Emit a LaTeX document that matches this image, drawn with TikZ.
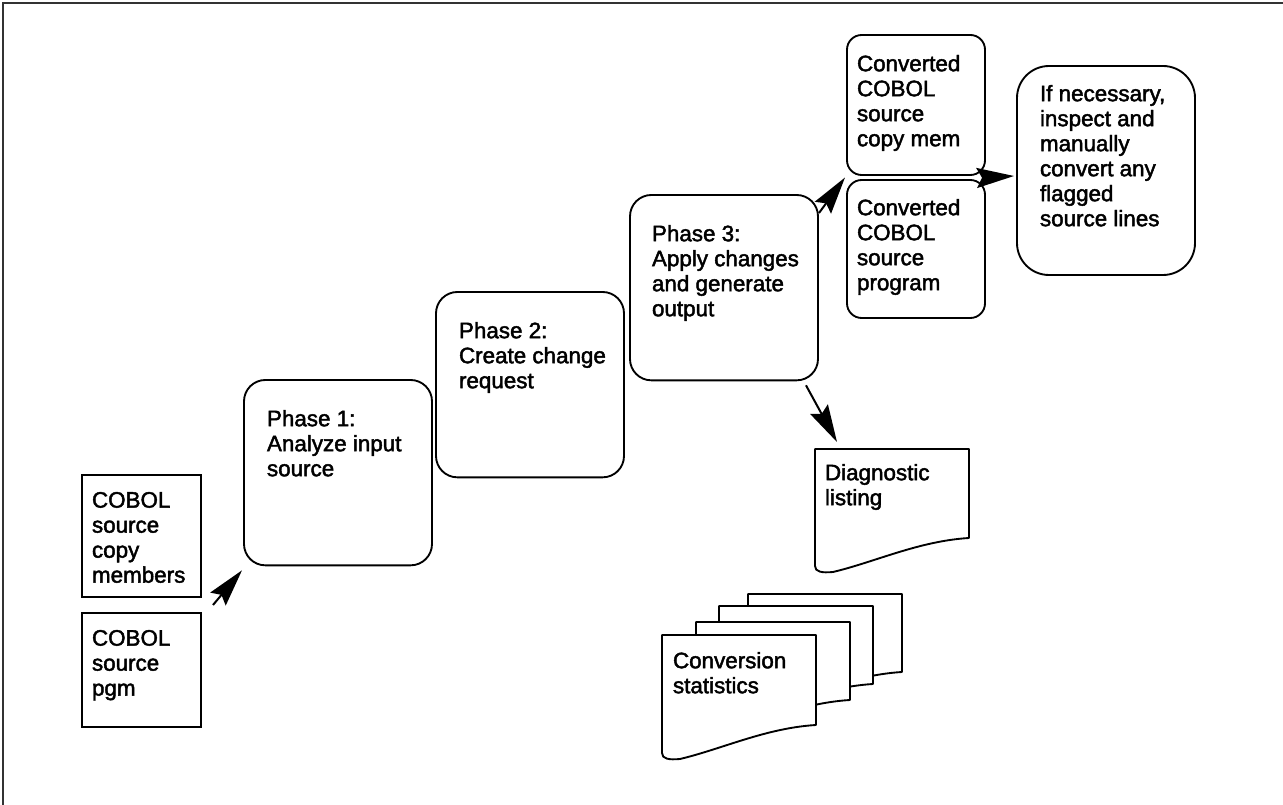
\documentclass[tikz,border=0pt]{standalone}
\usepackage{fontspec}
\setmainfont{Liberation Sans}[BoldFont={Liberation Sans},BoldFeatures={FakeBold=2}]
\usetikzlibrary{calc,arrows.meta}
\newcommand{\mydocshape}[2]{%
  \draw[line width=1.4pt, fill=white, line join=round]
    (#1.north west) -- (#1.north east) -- ($(#1.south east)+(0,-#2)$)
    .. controls ($(#1.south east)+(-50,-#2+3)$) and ($(#1.south west)+(60,-8)$) .. ($(#1.south west)+(18,2)$)
    .. controls ($(#1.south west)+(7,3)$) and ($(#1.south west)+(0,2)$) .. ($(#1.south west)+(0,-4)$) -- cycle;}
\begin{document}
\begin{tikzpicture}[x=0.75pt,y=-0.75pt,
  every node/.style={inner sep=0pt, outer sep=0pt},
  sq/.style={draw, line width=1.4pt, rectangle, anchor=north west},
  phase/.style={sq, rounded corners=16pt, minimum width=141pt, minimum height=139pt},
  conv/.style={sq, rounded corners=11pt, minimum width=103.5pt},
  bigbox/.style={sq, rounded corners=24pt},
  docbox/.style={rectangle, anchor=north west, minimum width=115.5pt},
  txt/.style={anchor=north west, align=left, font=\fontsize{16.8}{18.75}\selectfont\bfseries},
  arr/.style={-{Stealth[length=28pt,width=15pt,inset=4pt]}, line width=1.5pt},
]
\useasboundingbox (0,0) rectangle (1283,805);
% frame
\draw[line width=1.6pt, black!80] (3,830) -- (3,3) -- (1300,3);

% input boxes
\node[sq, minimum width=89.25pt, minimum height=91.5pt] (cm) at (82,475) {};
\node[txt] (cmt) at ($(cm.north west)+(10,17)$) {COBOL\\source\\copy\\members};
\node[sq, minimum width=89.25pt, minimum height=85.5pt] (pgm) at (82,613) {};
\node[txt] (pgmt) at ($(pgm.north west)+(10,17)$) {COBOL\\source\\pgm};

% phases
\node[phase] (p1) at (244,380) {};
\node[txt] (p1t) at ($(p1.north west)+(23,30)$) {Phase 1:\\Analyze input\\source};
\node[phase] (p2) at (436,292) {};
\node[txt] (p2t) at ($(p2.north west)+(23,30)$) {Phase 2:\\Create change\\request};
\node[phase] (p3) at (630,195) {};
\node[txt] (p3t) at ($(p3.north west)+(22,30)$) {Phase 3:\\Apply changes\\and generate\\output};

% converted outputs
\node[conv, minimum height=105pt] (c1) at (847,35) {};
\node[txt] (c1t) at ($(c1.north west)+(10,20)$) {Converted\\COBOL\\source\\copy mem};
\node[conv, minimum height=103.5pt] (c2) at (847,180) {};
\node[txt] (c2t) at ($(c2.north west)+(10,19)$) {Converted\\COBOL\\source\\program};

% final step
\node[bigbox, minimum width=133.5pt, minimum height=156.75pt] (rb) at (1017,66) {};
\node[txt] (rbt) at ($(rb.north west)+(23,19)$) {If necessary,\\inspect and\\manually\\convert any\\flagged\\source lines};

% documents
\node[docbox, minimum height=90.75pt] (diag) at (815,449) {};
\mydocshape{diag}{32}
\node[txt] (diagt) at ($(diag.north west)+(10,15)$) {Diagnostic\\listing};

\node[docbox, minimum height=82.5pt] (s4) at (748,594) {};
\node[docbox, minimum height=82.5pt] (s3) at (719,606) {};
\node[docbox, minimum height=82.5pt] (s2) at (696,622) {};
\node[docbox, minimum height=91.5pt] (s1) at (662,635) {};
\mydocshape{s4}{32}
\mydocshape{s3}{32}
\mydocshape{s2}{32}
\mydocshape{s1}{32}
\node[txt] (s1t) at ($(s1.north west)+(11,17)$) {Conversion\\statistics};

% arrows
\draw[arr] ($(cm.south east)!0.5!(pgm.north east)+(12,0)$) -- ($(p1.south west)+(-2,5)$);
\draw[arr] ($(p3.north east)+(1,18)$) -- ($(c1.south west)!0.5!(c2.north west)+(-2,0)$);
\draw[arr] ($(c1.south east)!0.5!(c2.north east)$) -- ($(rb.north west)+(-3,110)$);
\draw[arr] ($(p3.south east)+(-12,5)$) -- ($(diag.north west)+(22,-7)$);
\end{tikzpicture}
\end{document}
